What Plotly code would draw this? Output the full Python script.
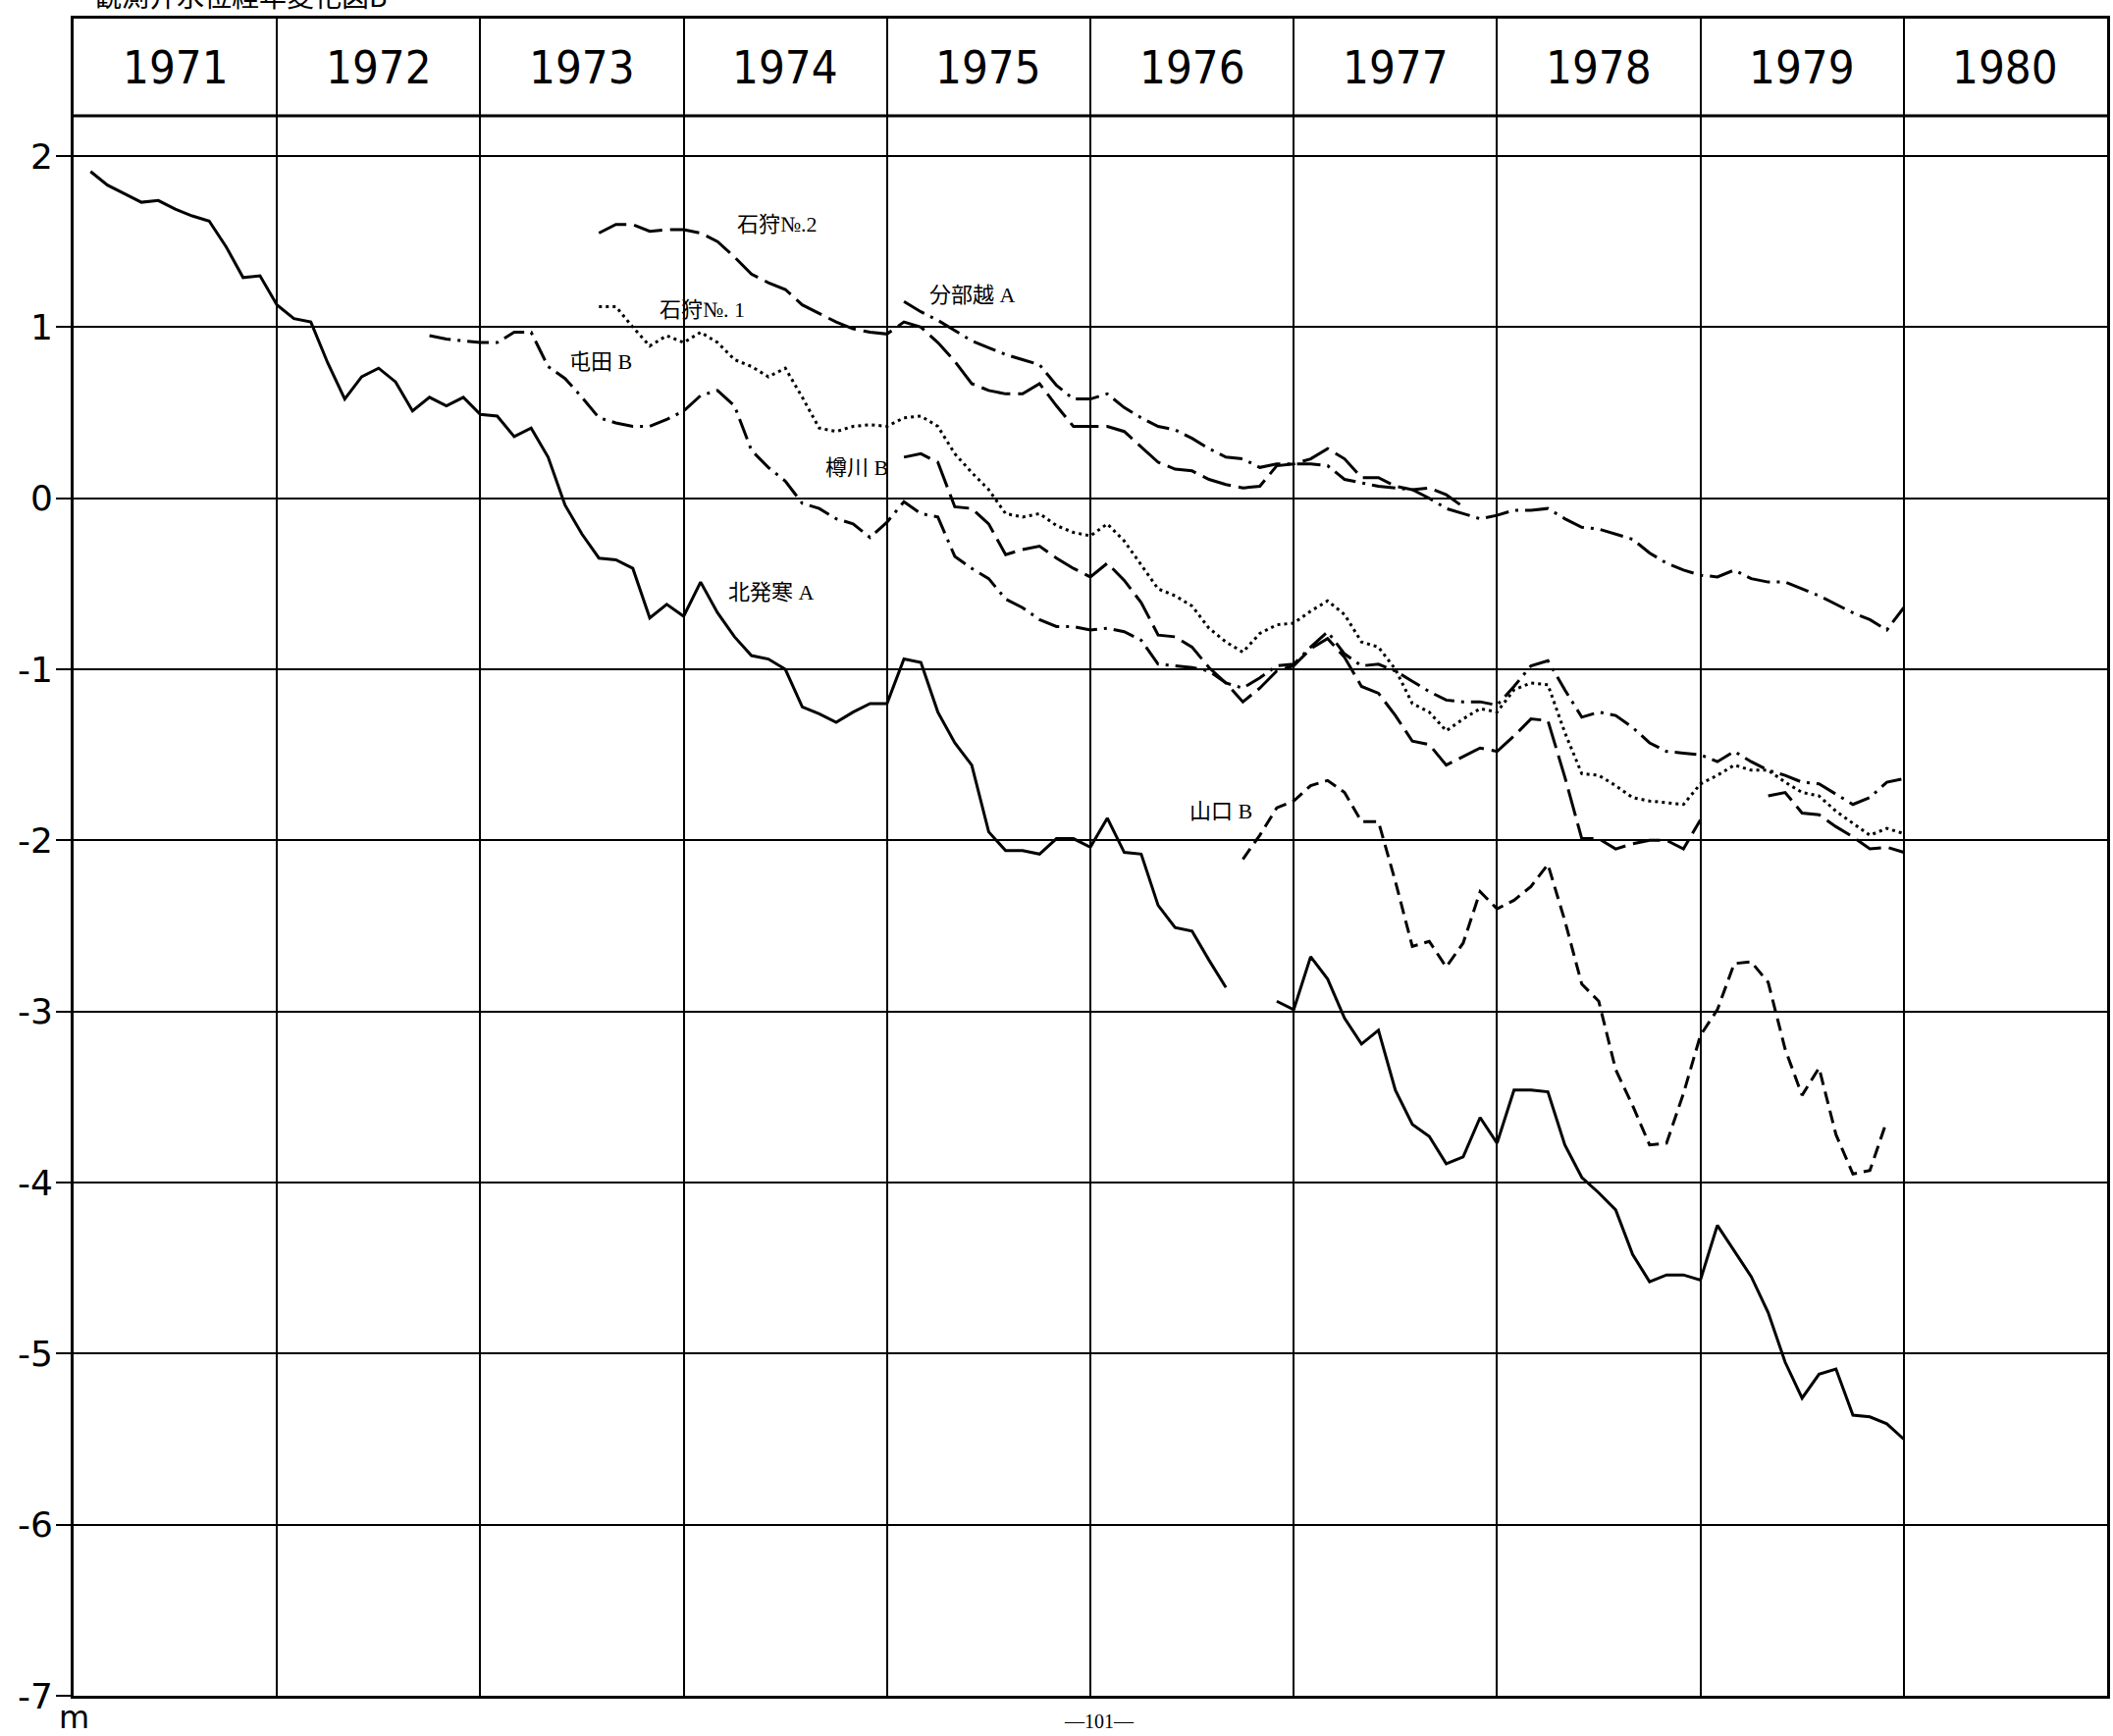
import plotly.graph_objects as go

# ---- data: monthly groundwater levels (m), month index counted from Jan 1971 ----
YEARS = list(range(1971, 1981))
Y_TICKS = [2, 1, 0, -1, -2, -3, -4, -5, -6, -7]
Y_TICK_TEXT = ["2", "1", "0", "-1", "-2", "-3", "-4", "-5", "-6", "-7"]

kitahassamu_a_start = 1
kitahassamu_a = [
    1.91, 1.83, 1.78, 1.73, 1.74, 1.69, 1.65, 1.62, 1.47, 1.29, 1.30, 1.13,
    1.05, 1.03, 0.79, 0.58, 0.71, 0.76, 0.68, 0.51, 0.59, 0.54, 0.59, 0.49,
    0.48, 0.36, 0.41, 0.24, -0.04, -0.21, -0.35, -0.36, -0.41, -0.70, -0.62, -0.69,
    -0.49, -0.67, -0.81, -0.92, -0.94, -1.00, -1.22, -1.26, -1.31, -1.25, -1.20, -1.20,
    -0.94, -0.96, -1.25, -1.43, -1.56, -1.95, -2.06, -2.06, -2.08, -1.99, -1.99, -2.04,
    -1.87, -2.07, -2.08, -2.38, -2.51, -2.53, -2.70, -2.86, None, None, -2.94, -2.99,
    -2.68, -2.81, -3.04, -3.19, -3.11, -3.46, -3.66, -3.73, -3.89, -3.85, -3.62, -3.77,
    -3.46, -3.46, -3.47, -3.78, -3.97, -4.06, -4.16, -4.42, -4.58, -4.54, -4.54, -4.57,
    -4.25, -4.40, -4.55, -4.76, -5.05, -5.26, -5.12, -5.09, -5.36, -5.37, -5.41, -5.50,
]

tonden_b_start = 21
tonden_b = [
    0.95, 0.93, 0.92, 0.91,
    0.91, 0.97, 0.97, 0.77, 0.70, 0.59, 0.47, 0.44, 0.42, 0.42, 0.46, 0.51,
    0.60, 0.63, 0.54, 0.28, 0.18, 0.10, -0.03, -0.06, -0.12, -0.15, -0.23, -0.14,
    -0.02, -0.09, -0.11, -0.34, -0.41, -0.47, -0.59, -0.64, -0.71, -0.75, -0.75, -0.77,
    -0.76, -0.78, -0.83, -0.97, -0.98, -0.99, -1.01, -1.08, -1.11, -1.05, -0.98, -0.97,
    -0.87, -0.78, -0.91, -0.98, -0.97, -1.01, -1.07, -1.13, -1.18, -1.19, -1.19, -1.21,
    -1.10, -0.98, -0.95, -1.12, -1.28, -1.25, -1.27, -1.34, -1.43, -1.48, -1.49, -1.50,
    -1.54, -1.48, -1.54, -1.59, -1.62, -1.66, -1.67, -1.73, -1.79, -1.75, -1.66, -1.64,
]

ishikari_no2_start = 31
ishikari_no2 = [
    1.55, 1.60, 1.60, 1.56, 1.57, 1.57,
    1.55, 1.50, 1.41, 1.31, 1.26, 1.22, 1.13, 1.08, 1.03, 0.99, 0.97, 0.96,
    1.03, 1.00, 0.91, 0.80, 0.67, 0.63, 0.61, 0.61, 0.67, 0.54, 0.42, 0.42,
    0.42, 0.39, 0.30, 0.21, 0.17, 0.16, 0.11, 0.08, 0.06, 0.07, 0.19, 0.20,
    0.23, 0.29, 0.23, 0.12, 0.12, 0.07, 0.05, 0.06, 0.02, -0.05,
]

ishikari_no1_start = 31
ishikari_no1 = [
    1.12, 1.12, 1.00, 0.89, 0.95, 0.91,
    0.97, 0.91, 0.81, 0.77, 0.71, 0.76, 0.59, 0.41, 0.39, 0.42, 0.43, 0.42,
    0.47, 0.48, 0.42, 0.26, 0.15, 0.05, -0.09, -0.11, -0.09, -0.16, -0.20, -0.22,
    -0.15, -0.25, -0.39, -0.53, -0.57, -0.63, -0.76, -0.84, -0.90, -0.79, -0.74, -0.73,
    -0.66, -0.60, -0.68, -0.84, -0.87, -1.00, -1.20, -1.25, -1.36, -1.29, -1.23, -1.25,
    -1.12, -1.08, -1.09, -1.37, -1.61, -1.62, -1.68, -1.75, -1.77, -1.78, -1.79, -1.67,
    -1.62, -1.56, -1.59, -1.59, -1.66, -1.72, -1.74, -1.83, -1.90, -1.97, -1.93, -1.96,
]

wakebetsu_a_start = 49
wakebetsu_a = [
    1.15, 1.09, 1.04, 0.98, 0.92, 0.88, 0.84, 0.81, 0.78, 0.66, 0.58, 0.58,
    0.61, 0.53, 0.47, 0.42, 0.40, 0.35, 0.29, 0.24, 0.23, 0.18, 0.20, 0.20,
    0.20, 0.19, 0.11, 0.09, 0.07, 0.06, 0.05, 0.00, -0.06, -0.09, -0.12, -0.10,
    -0.07, -0.07, -0.06, -0.12, -0.17, -0.18, -0.21, -0.24, -0.32, -0.38, -0.42, -0.45,
    -0.46, -0.42, -0.47, -0.49, -0.49, -0.53, -0.57, -0.62, -0.67, -0.71, -0.77, -0.64,
]

tarukawa_b_start = 49
tarukawa_b = [
    0.24, 0.26, 0.21, -0.05, -0.06, -0.15, -0.33, -0.30, -0.28, -0.35, -0.41, -0.46,
    -0.38, -0.48, -0.61, -0.80, -0.81, -0.87, -0.99, -1.08, -1.19, -1.11, -1.01, -0.98,
    -0.88, -0.82, -0.93, -1.10, -1.14, -1.27, -1.42, -1.44, -1.56, -1.51, -1.46, -1.48,
    -1.39, -1.29, -1.30, -1.63, -1.99, -1.99, -2.05, -2.02, -2.00, -2.00, -2.05, -1.88,
    None, None, None, -1.74, -1.72, -1.84, -1.85, -1.92, -1.98, -2.05, -2.04, -2.07,
]

yamaguchi_b_start = 69
yamaguchi_b = [
    -2.11, -1.97, -1.81, -1.77,
    -1.68, -1.65, -1.72, -1.89, -1.89, -2.24, -2.62, -2.59, -2.74, -2.60, -2.30, -2.40,
    -2.35, -2.27, -2.14, -2.47, -2.84, -2.94, -3.34, -3.55, -3.78, -3.77, -3.48, -3.14,
    -2.99, -2.72, -2.71, -2.83, -3.22, -3.49, -3.33, -3.72, -3.95, -3.93, -3.64,
]

# (label, start month, values, dash pattern)
SERIES = [
    ("北発寒A", kitahassamu_a_start, kitahassamu_a, "solid"),
    ("屯田B", tonden_b_start, tonden_b, "22px,7px,3px,7px"),
    ("石狩No.2", ishikari_no2_start, ishikari_no2, "30px,8px"),
    ("石狩No.1", ishikari_no1_start, ishikari_no1, "3px,4px"),
    ("分部越A", wakebetsu_a_start, wakebetsu_a, "24px,7px,3px,7px"),
    ("樽川B", tarukawa_b_start, tarukawa_b, "28px,8px"),
    ("山口B", yamaguchi_b_start, yamaguchi_b, "13px,7px"),
]

# in-plot station labels (x in years, y in m)
LABELS = [
    ("石狩№.2", 1974.46, 1.60),
    ("石狩№. 1", 1974.09, 1.10),
    ("分部越 A", 1975.42, 1.19),
    ("屯田 B", 1973.59, 0.80),
    ("樽川 B", 1974.85, 0.18),
    ("北発寒 A", 1974.43, -0.55),
    ("山口 B", 1976.64, -1.83),
]

# ---- geometry ----
W, H = 2153, 1769
M_L, M_R, M_T, M_B = 75, 3, 19, 41
PLOT_H = H - M_T - M_B
Y_MIN = -7.0
PX_PER_M = 174.33
Y_TOP = Y_MIN + PLOT_H / PX_PER_M
HEADER_BOTTOM = 2.235
HEADER_MID = (HEADER_BOTTOM + Y_TOP) / 2


def paper_x(px):
    return (px - M_L) / (W - M_L - M_R)


def paper_y(py):
    return (H - M_B - py) / PLOT_H


fig = go.Figure()

for name, start, values, dash in SERIES:
    xs = [1971 + (start + i) / 12 for i in range(len(values))]
    fig.add_trace(go.Scatter(
        x=xs, y=values, mode="lines", name=name,
        line=dict(color="black", width=3, dash=dash),
        connectgaps=False, showlegend=False, hoverinfo="skip",
    ))

# header row with the year captions
fig.add_shape(type="line", xref="x", yref="y", x0=1971, x1=1981,
              y0=HEADER_BOTTOM, y1=HEADER_BOTTOM,
              line=dict(color="black", width=3))
annotations = []
for yr in YEARS:
    annotations.append(dict(
        x=yr + 0.5, y=HEADER_MID, xref="x", yref="y", text=str(yr),
        showarrow=False,
        font=dict(family="DejaVu Sans Condensed, Liberation Sans", size=47, color="black"),
        xanchor="center", yanchor="middle",
    ))

for text, x, y in LABELS:
    annotations.append(dict(
        x=x, y=y, xref="x", yref="y", text=text, showarrow=False,
        font=dict(family="Liberation Serif, Noto Sans CJK JP", size=22, color="black"),
        xanchor="center", yanchor="middle",
    ))

# unit below the lowest tick
annotations.append(dict(
    x=paper_x(75), y=paper_y(1750), xref="paper", yref="paper", text="m",
    showarrow=False, font=dict(family="DejaVu Sans", size=32, color="black"),
    xanchor="center", yanchor="middle",
))
# page number
annotations.append(dict(
    x=paper_x(1122), y=paper_y(1754), xref="paper", yref="paper", text="—101—",
    showarrow=False, font=dict(family="Liberation Serif", size=20, color="black"),
    xanchor="center", yanchor="middle",
))
# figure caption (runs off the top of the sheet)
annotations.append(dict(
    x=paper_x(94), y=paper_y(-5), xref="paper", yref="paper",
    text="観測井水位経年変化図B", showarrow=False,
    font=dict(family="Noto Sans CJK JP", size=28, color="black"),
    xanchor="left", yanchor="middle",
))

fig.update_layout(
    width=W, height=H,
    margin=dict(l=M_L, r=M_R, t=M_T, b=M_B, pad=0),
    paper_bgcolor="white", plot_bgcolor="white",
    annotations=annotations,
    xaxis=dict(
        range=[1971, 1981], tickvals=list(range(1971, 1982)),
        showticklabels=False, ticks="",
        showgrid=True, gridcolor="black", gridwidth=1.5,
        showline=True, mirror=True, linecolor="black", linewidth=3,
        zeroline=False, fixedrange=True,
    ),
    yaxis=dict(
        range=[Y_MIN, Y_TOP], tickvals=Y_TICKS, ticktext=Y_TICK_TEXT,
        ticks="outside", ticklen=15, tickwidth=2, tickcolor="black",
        ticklabelstandoff=-4,
        tickfont=dict(family="DejaVu Sans", size=36, color="black"),
        showgrid=True, gridcolor="black", gridwidth=1.5,
        showline=True, mirror=True, linecolor="black", linewidth=3,
        zeroline=False, fixedrange=True,
    ),
)

fig.write_html("out.html")
